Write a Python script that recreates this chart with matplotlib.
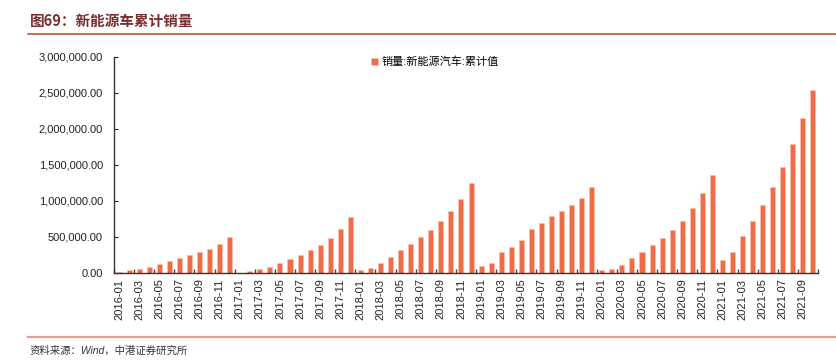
import matplotlib
matplotlib.use('Agg')
import matplotlib.pyplot as plt
from matplotlib.lines import Line2D
from matplotlib.ticker import FuncFormatter
import numpy as np

plt.rcParams['font.family'] = ['Liberation Sans', 'Noto Sans CJK SC', 'DejaVu Sans']

# months 2016-01 .. 2021-10
months = ['%d-%02d' % (y, m) for y in range(2016, 2022) for m in range(1, 13)][:70]

# cumulative NEV sales
sales = [
    18000, 37000, 60000, 88000, 125000, 171000, 208000, 246000, 288000, 334000, 399000, 500000,
    6000, 23000, 56000, 88000, 134000, 199000, 250000, 320000, 394000, 486000, 607000, 774000,
    37000, 69000, 139000, 222000, 324000, 408000, 496000, 598000, 718000, 857000, 1024000, 1251000,
    93000, 144000, 297000, 357000, 459000, 612000, 695000, 788000, 866000, 943000, 1043000, 1200000,
    42000, 56000, 111000, 204000, 287000, 389000, 482000, 593000, 728000, 899000, 1108000, 1362000,
    176000, 287000, 514000, 728000, 945000, 1200000, 1473000, 1793000, 2150000, 2535000,
]

title = '图69：新能源车累计销量'
legend_label = '销量:新能源汽车:累计值'
source = '资料来源：Wind，中港证券研究所'

bar_color = '#EE6C47'

fig = plt.figure(figsize=(8.36, 3.62), dpi=100)
ax = fig.add_axes([114 / 836, 1 - 273 / 362, 704 / 836, 216 / 362])

x = np.arange(len(sales))
ax.bar(x, sales, width=0.5, color=bar_color, edgecolor='#F8C0AE', linewidth=0.4,
       label=legend_label)

ax.set_xlim(-0.5, len(sales) - 0.5)
ax.set_ylim(0, 3000000)
ax.set_yticks(np.arange(0, 3000001, 500000))
ax.yaxis.set_major_formatter(FuncFormatter(lambda v, p: '{:,.2f}'.format(v)))

ax.set_xticks(x[::2])
ax.set_xticklabels(months[::2], rotation=90)
ax.set_xticks(np.arange(-0.5, len(sales), 2), minor=True)
ax.tick_params(axis='x', which='major', length=0, pad=4, labelsize=8, colors='#222222')
ax.tick_params(axis='x', which='minor', direction='in', length=3, width=1, color='#444444')
ax.tick_params(axis='y', direction='in', length=3, width=0.8, pad=8, labelsize=8,
               colors='#222222')

for s in ['top', 'right']:
    ax.spines[s].set_visible(False)
for s in ['left', 'bottom']:
    ax.spines[s].set_color('#333333')
    ax.spines[s].set_linewidth(1)

leg = ax.legend(loc='center', bbox_to_anchor=(435 / 836, 1 - 62 / 362),
                bbox_transform=fig.transFigure, frameon=False, fontsize=8,
                handlelength=0.6, handleheight=0.6, handletextpad=0.3)

# header / footer
fig.text(30 / 836, 1 - 21 / 362, title, fontsize=10.5, fontweight='bold',
         color='#7A2E2E', va='center', ha='left',
         family=['Noto Sans CJK SC', 'DejaVu Sans'])
fig.add_artist(Line2D([28 / 836, 1], [1 - 34 / 362] * 2, transform=fig.transFigure,
                      color='#B85A3E', linewidth=1.2))
fig.add_artist(Line2D([28 / 836, 1], [1 - 337 / 362] * 2, transform=fig.transFigure,
                      color='#DCA494', linewidth=1.6))
fig.text(30 / 836, 1 - 351 / 362, source, fontsize=7.5, style='italic',
         color='#333333', va='center', ha='left')

fig.savefig('out.png', dpi=100)
